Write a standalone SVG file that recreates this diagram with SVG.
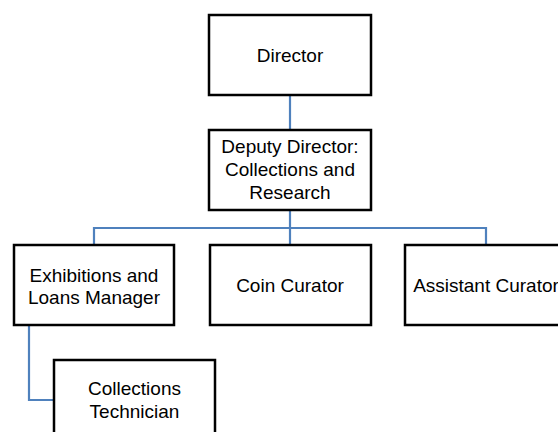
<svg xmlns="http://www.w3.org/2000/svg" width="558" height="432" viewBox="0 0 558 432">
<style>
.box{fill:#ffffff;stroke:#000000;stroke-width:2.5}
.lbl{font-family:"Liberation Sans",Arial,sans-serif;font-size:19px;fill:#000000;text-anchor:middle}
.conn{fill:none;stroke:#4F81BD;stroke-width:2.2}
</style>
<rect width="558" height="432" fill="#ffffff"/>
<g id="connectors">
<path class="conn" d="M290,96 V129"/>
<path class="conn" d="M290,211 V244"/>
<path class="conn" d="M94,244 V228 H486 V244"/>
<path class="conn" d="M29,326 V400 H53"/>
</g>
<g id="director">
<rect class="box" x="209" y="15" width="162" height="80"/>
<text class="lbl" x="290" y="62">Director</text>
</g>
<g id="deputy-director">
<rect class="box" x="209" y="130" width="162" height="80"/>
<text class="lbl" x="290" y="153">Deputy Director:</text>
<text class="lbl" x="290" y="176">Collections and</text>
<text class="lbl" x="290" y="199">Research</text>
</g>
<g id="exhibitions-manager">
<rect class="box" x="14" y="245" width="160" height="80"/>
<text class="lbl" x="94" y="281.5">Exhibitions and</text>
<text class="lbl" x="94" y="304">Loans Manager</text>
</g>
<g id="coin-curator">
<rect class="box" x="210" y="245" width="161" height="80"/>
<text class="lbl" x="290" y="292">Coin Curator</text>
</g>
<g id="assistant-curator">
<rect class="box" x="405" y="245" width="162" height="80"/>
<text class="lbl" x="486" y="292">Assistant Curator</text>
</g>
<g id="collections-technician">
<rect class="box" x="54" y="360" width="161" height="80"/>
<text class="lbl" x="134.5" y="394.5">Collections</text>
<text class="lbl" x="134.5" y="417.5">Technician</text>
</g>
</svg>
